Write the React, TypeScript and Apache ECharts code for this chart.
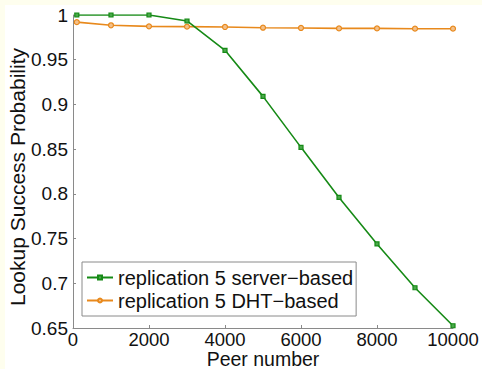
import React, { useEffect, useRef } from "react";
import * as echarts from "echarts";

const peers = [100, 1000, 2000, 3000, 4000, 5000, 6000, 7000, 8000, 9000, 10000];
const serverBased = [1.0, 1.0, 1.0, 0.9933, 0.9605, 0.909, 0.852, 0.796, 0.744, 0.695, 0.6525];
const dhtBased = [0.992, 0.9885, 0.9873, 0.987, 0.9866, 0.9858, 0.9855, 0.985, 0.985, 0.9847, 0.9847];
const seriesNames = ["replication 5 server\u2212based", "replication 5 DHT\u2212based"];

const GREEN = "#168a16";
const ORANGE = "#e8891c";
const FONT = "Liberation Sans, Arial, Helvetica, sans-serif";

export default function App() {
  const ref = useRef<HTMLDivElement>(null);
  useEffect(() => {
    if (!ref.current) return;
    const chart = echarts.init(ref.current, null, { renderer: "svg" });
    chart.setOption({
      animation: false,
      backgroundColor: "#fefeee",
      textStyle: { fontFamily: FONT },
      graphic: [
        {
          type: "rect",
          z: -10,
          silent: true,
          shape: { x: 5, y: 5, width: 477, height: 364 },
          style: { fill: "#ffffff" },
        },
      ],
      grid: {
        left: 73,
        top: 15,
        right: 29,
        bottom: 41,
        containLabel: false,
        outerBoundsMode: "none",
      },
      xAxis: {
        type: "value",
        min: 0,
        max: 10000,
        interval: 2000,
        name: "Peer number",
        nameLocation: "middle",
        nameGap: 21,
        nameMoveOverlap: false,
        nameTextStyle: { fontSize: 19.5, lineHeight: 19.5, color: "#111", fontFamily: FONT },
        axisLine: { show: true, lineStyle: { color: "#8a8a8a", width: 1 } },
        axisTick: { show: true, inside: true, length: 3, lineStyle: { color: "#8a8a8a" } },
        axisLabel: {
          fontSize: 18.5,
          lineHeight: 18.5,
          color: "#111",
          margin: 2,
          fontFamily: FONT,
          formatter: (v: number) => String(v),
        },
        splitLine: { show: false },
      },
      yAxis: {
        type: "value",
        min: 0.65,
        max: 1,
        interval: 0.05,
        name: "Lookup Success Probability",
        nameLocation: "middle",
        nameGap: 45,
        nameMoveOverlap: false,
        nameTextStyle: {
          fontSize: 21,
          color: "#111",
          fontFamily: FONT,
          padding: [0, 11, 0, 0],
        },
        axisLine: { show: true, lineStyle: { color: "#8a8a8a", width: 1 } },
        axisTick: { show: true, inside: true, length: 3, lineStyle: { color: "#8a8a8a" } },
        axisLabel: { fontSize: 19, color: "#111", margin: 5, fontFamily: FONT },
        splitLine: { show: false },
      },
      legend: {
        orient: "vertical",
        left: 82,
        top: 262,
        padding: [5, 3, 5, 4],
        itemGap: 2,
        itemWidth: 26,
        itemHeight: 5,
        backgroundColor: "#ffffff",
        borderColor: "#8a8a8a",
        borderWidth: 1,
        borderRadius: 0,
        textStyle: { fontSize: 20, color: "#111", lineHeight: 21, fontFamily: FONT },
        data: seriesNames,
      },
      series: [
        {
          name: seriesNames[0],
          type: "line",
          data: peers.map((p, i) => [p, serverBased[i]]),
          symbol: "rect",
          symbolSize: 4,
          lineStyle: { color: GREEN, width: 1.6 },
          itemStyle: { color: "#4aa84a", borderColor: GREEN, borderWidth: 1.2 },
          z: 3,
        },
        {
          name: seriesNames[1],
          type: "line",
          data: peers.map((p, i) => [p, dhtBased[i]]),
          symbol: "circle",
          symbolSize: 5,
          lineStyle: { color: ORANGE, width: 1.6 },
          itemStyle: { color: "#f3c08a", borderColor: ORANGE, borderWidth: 1.2 },
          z: 2,
        },
      ],
    });
    return () => chart.dispose();
  }, []);
  return (
    <div
      ref={ref}
      style={{ position: "fixed", left: 0, top: 0, width: 482, height: 369 }}
    />
  );
}
